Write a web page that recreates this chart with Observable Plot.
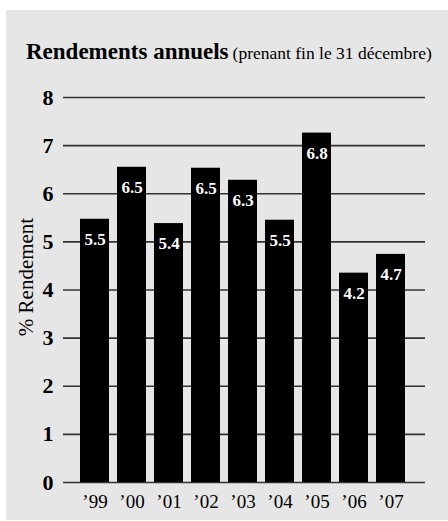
<!DOCTYPE html>
<html>
<head>
<meta charset="utf-8">
<script src="https://cdn.jsdelivr.net/npm/d3@7"></script>
<script src="https://cdn.jsdelivr.net/npm/@observablehq/plot@0.6"></script>
<style>
  html, body { margin: 0; padding: 0; background: #ffffff; }
  #box {
    position: absolute; left: 6px; top: 10px; width: 442px; height: 510px;
    background: #e6e6e6; font-family: "Liberation Serif", serif; color: #000;
  }
  #title { position: absolute; left: 20px; top: 30px; white-space: nowrap; line-height: 1; }
  #title b { font-size: 23px; }
  #title span { font-size: 17.5px; }
  #chart { position: absolute; left: 0; top: 62px; }
</style>
</head>
<body>
<div id="box">
  <div id="title"><b>Rendements annuels</b> <span>(prenant fin le 31 décembre)</span></div>
  <div id="chart"></div>
</div>
<script>
const years = ["’99", "’00", "’01", "’02", "’03", "’04", "’05", "’06", "’07"];
const values = [5.47, 6.55, 5.38, 6.53, 6.28, 5.45, 7.26, 4.35, 4.74];
const labels = ["5.5", "6.5", "5.4", "6.5", "6.3", "5.5", "6.8", "4.2", "4.7"];
const yTicks = [0, 1, 2, 3, 4, 5, 6, 7, 8];
const yLabel = "% Rendement";

const data = years.map((year, i) => ({year, value: values[i], label: labels[i]}));
const serif = "'Liberation Serif', serif";

const chart = Plot.plot({
  width: 442,
  height: 448,
  marginTop: 25,
  marginBottom: 38,
  marginLeft: 57,
  marginRight: 23,
  style: {background: "transparent", fontFamily: serif, color: "#000"},
  x: {domain: years, paddingInner: 0.22, paddingOuter: 0.45, align: 0.45, label: null},
  y: {domain: [0, 8], label: null},
  marks: [
    Plot.ruleY(yTicks, {stroke: "#333", strokeWidth: 1.6}),
    Plot.barY(data, {x: "year", y: "value", fill: "#000"}),
    Plot.text(data, {x: "year", y: "value", text: "label", dy: 20, fill: "#fff",
      fontWeight: "bold", fontSize: 17, fontFamily: serif}),
    Plot.axisY({ticks: yTicks, tickSize: 0, tickPadding: 10, fontSize: 22,
      fontWeight: "bold", fontFamily: serif, label: null}),
    Plot.axisX({tickSize: 0, tickPadding: 12, fontSize: 19, fontFamily: serif, label: null}),
    Plot.text([yLabel], {frameAnchor: "left", text: d => d, rotate: -90, textAnchor: "middle",
      dx: -37, dy: -13, fontSize: 21, fontFamily: serif, fill: "#000"})
  ]
});
document.getElementById("chart").appendChild(chart);
</script>
</body>
</html>
